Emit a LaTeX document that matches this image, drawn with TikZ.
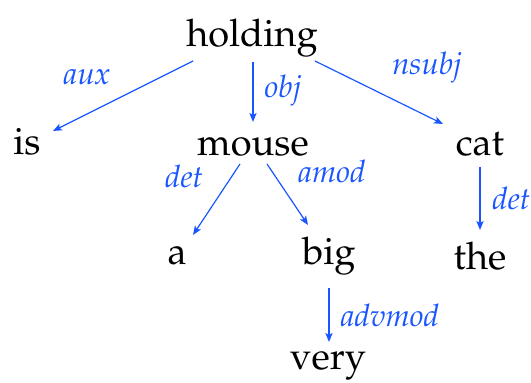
\documentclass[tikz,border=0pt]{standalone}
\usepackage[T1]{fontenc}
\usepackage{mathpazo}
\usetikzlibrary{arrows.meta,calc}
\definecolor{deplink}{RGB}{26,86,255}
\tikzset{
  word/.style={inner sep=0pt, anchor=base, font=\fontsize{19}{22}\selectfont},
  deplabel/.style={inner sep=0pt, anchor=base, text=deplink,
    font=\fontsize{15.5}{18}\selectfont\itshape},
  dep/.style={draw=deplink, line width=0.6pt,
    -{Stealth[length=4.5pt,width=3.6pt,inset=1pt]}},
}
\begin{document}
\begin{tikzpicture}[x=0.5pt,y=-0.5pt]
  \useasboundingbox (0,0) rectangle (531,383);

  % words of the sentence
  \node[word] (holding) at (252,47) {holding};
  \node[word] (is)      at (27,155) {is};
  \node[word] (mouse)   at (253,156) {mouse};
  \node[word] (cat)     at (480,156) {cat};
  \node[word] (a)       at (177,265) {a};
  \node[word] (big)     at (329,265) {big};
  \node[word] (the)     at (480,270) {the};
  \node[word] (very)    at (328,370) {very};

  % dependency arcs
  \draw[dep] ($(holding.base)+(-59,14)$) -- ($(is.base)+(26,-24)$);
  \draw[dep] ($(holding.base)+(1,15)$)   -- ($(mouse.base)+(0,-34)$);
  \draw[dep] ($(holding.base)+(63,14)$)  -- ($(cat.base)+(-37,-32)$);
  \draw[dep] ($(mouse.base)+(-13,8)$)    -- ($(a.base)+(16,-30)$);
  \draw[dep] ($(mouse.base)+(14,8)$)     -- ($(big.base)+(-21,-40)$);
  \draw[dep] ($(cat.base)+(0,11)$)       -- ($(the.base)+(0,-40)$);
  \draw[dep] ($(big.base)+(0,23)$)       -- ($(very.base)+(1,-28)$);

  % relation names
  \node[deplabel] (l-aux)    at (87,85)   {aux};
  \node[deplabel] (l-obj)    at (283,98)  {obj};
  \node[deplabel] (l-nsubj)  at (427,75)  {nsubj};
  \node[deplabel] (l-det1)   at (184,188) {det};
  \node[deplabel] (l-amod)   at (332,183) {amod};
  \node[deplabel, anchor=base west] (l-det2) at (492,210) {det};
  \node[deplabel] (l-advmod) at (390,327) {advmod};
\end{tikzpicture}
\end{document}
